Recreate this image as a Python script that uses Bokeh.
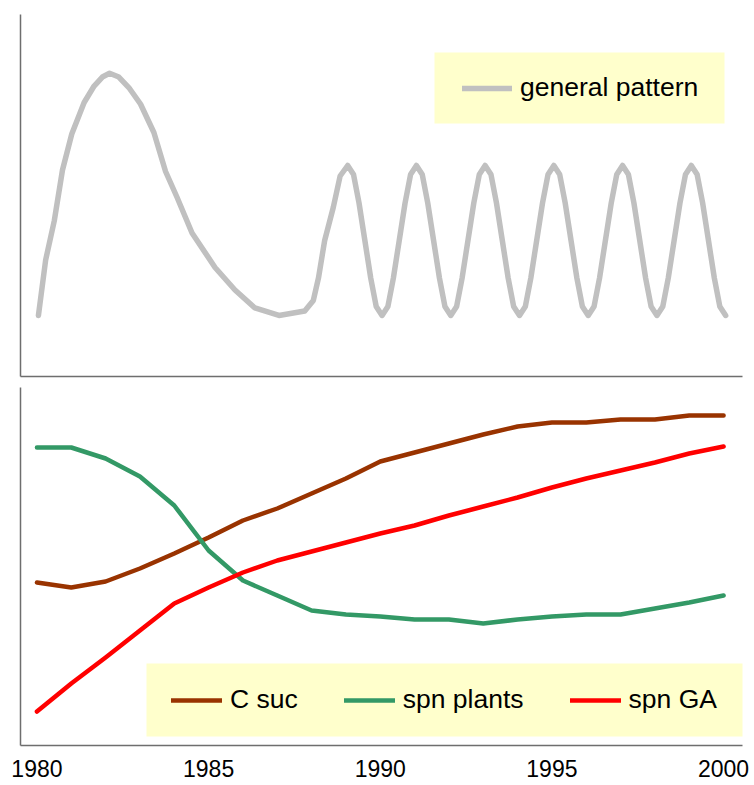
from bokeh.plotting import figure
from bokeh.models import Range1d, LinearAxis, FixedTicker, Legend, LegendItem, BoxAnnotation
from bokeh.layouts import column
from bokeh.embed import file_html
from bokeh.resources import INLINE

# ---------------- data ----------------
pattern_years = [
    1980.00, 1980.21, 1980.46, 1980.70, 1980.97, 1981.33, 1981.62, 1981.86, 1982.07,
    1982.34, 1982.63, 1982.97, 1983.36, 1983.70, 1984.03, 1984.47, 1985.14, 1985.72,
    1986.30, 1987.00, 1987.75, 1988.00, 1988.15, 1988.33, 1988.58, 1988.78,
    1989.00, 1989.17, 1989.33, 1989.50, 1989.67, 1989.83,
    1990.00, 1990.17, 1990.33, 1990.50, 1990.67, 1990.83,
    1991.00, 1991.17, 1991.33, 1991.50, 1991.67, 1991.83,
    1992.00, 1992.17, 1992.33, 1992.50, 1992.67, 1992.83,
    1993.00, 1993.17, 1993.33, 1993.50, 1993.67, 1993.83,
    1994.00, 1994.17, 1994.33, 1994.50, 1994.67, 1994.83,
    1995.00, 1995.17, 1995.33, 1995.50, 1995.67, 1995.83,
    1996.00, 1996.17, 1996.33, 1996.50, 1996.67, 1996.83,
    1997.00, 1997.17, 1997.33, 1997.50, 1997.67, 1997.83,
    1998.00, 1998.17, 1998.33, 1998.50, 1998.67, 1998.83,
    1999.00, 1999.17, 1999.33, 1999.50, 1999.67, 1999.83,
    2000.00,
]
pattern_values = [
    0.0, 3.7, 6.3, 9.7, 12.1, 14.2, 15.3, 15.9, 16.15,
    15.9, 15.2, 14.1, 12.2, 9.6, 7.9, 5.5, 3.2, 1.7,
    0.5, 0.0, 0.3, 1.0, 2.5, 5.0, 7.2, 9.3,
    10.0, 9.4, 7.5, 5.0, 2.5, 0.6,
    0.0, 0.6, 2.5, 5.0, 7.5, 9.4,
    10.0, 9.4, 7.5, 5.0, 2.5, 0.6,
    0.0, 0.6, 2.5, 5.0, 7.5, 9.4,
    10.0, 9.4, 7.5, 5.0, 2.5, 0.6,
    0.0, 0.6, 2.5, 5.0, 7.5, 9.4,
    10.0, 9.4, 7.5, 5.0, 2.5, 0.6,
    0.0, 0.6, 2.5, 5.0, 7.5, 9.4,
    10.0, 9.4, 7.5, 5.0, 2.5, 0.6,
    0.0, 0.6, 2.5, 5.0, 7.5, 9.4,
    10.0, 9.4, 7.5, 5.0, 2.5, 0.6,
    0.0,
]

years = [1980, 1981, 1982, 1983, 1984, 1985, 1986, 1987, 1988, 1989, 1990,
         1991, 1992, 1993, 1994, 1995, 1996, 1997, 1998, 1999, 2000]
c_suc = [16.3, 15.8, 16.4, 17.7, 19.2, 20.8, 22.5, 23.7, 25.2, 26.7, 28.4,
         29.3, 30.2, 31.1, 31.9, 32.3, 32.3, 32.6, 32.6, 33.0, 33.0]
spn_plants = [29.8, 29.8, 28.7, 26.9, 24.0, 19.5, 16.5, 15.0, 13.5, 13.1, 12.9,
              12.6, 12.6, 12.2, 12.6, 12.9, 13.1, 13.1, 13.7, 14.3, 15.0]
spn_ga = [3.4, 6.2, 8.8, 11.5, 14.2, 15.8, 17.3, 18.5, 19.4, 20.3, 21.2,
          22.0, 23.0, 23.9, 24.8, 25.8, 26.7, 27.5, 28.3, 29.2, 29.9]
tick_years = [1980, 1985, 1990, 1995, 2000]

FONT = "Liberation Sans"
AXIS_COLOR = "#6e6e6e"
LEGEND_BG = "#FFFFCC"
LEGEND_FONT_SIZE = "26.5px"


def plain_axis(ticks):
    ax = LinearAxis(ticker=FixedTicker(ticks=ticks))
    ax.axis_line_color = AXIS_COLOR
    ax.axis_line_width = 1.5
    ax.major_tick_line_color = None
    ax.minor_tick_line_color = None
    ax.major_tick_out = 0
    ax.major_tick_in = 0
    return ax


# ---------------- top panel ----------------
top = figure(width=754, height=380, output_backend="svg", toolbar_location=None,
             x_range=Range1d(1979.478, 2000.49), y_range=Range1d(-4.07, 20.07),
             x_axis_type=None, y_axis_type=None,
             min_border_left=18, min_border_right=12, min_border_top=14, min_border_bottom=4)
top.outline_line_color = None

for side in ("left", "below"):
    ax = plain_axis([])
    ax.major_label_text_font_size = "0px"
    ax.major_label_standoff = 0
    top.add_layout(ax, side)

r_pat = top.line(pattern_years, pattern_values, line_color="#C0C0C0", line_width=5.5,
                 line_cap="round", line_join="round")

top.add_layout(BoxAnnotation(left=414, right=704, bottom=253, top=324,
                             left_units="screen", right_units="screen",
                             bottom_units="screen", top_units="screen",
                             fill_color=LEGEND_BG, fill_alpha=1.0, line_color=None,
                             level="annotation"))

leg_top = Legend(items=[LegendItem(label="general pattern", renderers=[r_pat])],
                 location=(442, 273), orientation="vertical",
                 background_fill_alpha=0.0, border_line_color=None,
                 padding=0, margin=0, glyph_width=50, glyph_height=30, label_height=30,
                 label_standoff=8,
                 label_text_font=FONT, label_text_font_size=LEGEND_FONT_SIZE,
                 label_text_color="black")
top.add_layout(leg_top)

# ---------------- bottom panel ----------------
bot = figure(width=754, height=405, output_backend="svg", toolbar_location=None,
             x_range=Range1d(1979.521, 2000.551), y_range=Range1d(0.0, 35.8),
             x_axis_type=None, y_axis_type=None,
             min_border_left=20, min_border_right=9, min_border_top=7, min_border_bottom=40)
bot.outline_line_color = None

lax = plain_axis([])
lax.major_label_text_font_size = "0px"
lax.major_label_standoff = 0
bot.add_layout(lax, "left")

bax = plain_axis(tick_years)
bax.major_label_standoff = 14
bax.major_label_text_font = FONT
bax.major_label_text_font_size = "23px"
bax.major_label_text_color = "black"
bot.add_layout(bax, "below")

r_c = bot.line(years, c_suc, line_color="#993300", line_width=4.5,
               line_cap="round", line_join="round")
r_p = bot.line(years, spn_plants, line_color="#339966", line_width=4.5,
               line_cap="round", line_join="round")
r_g = bot.line(years, spn_ga, line_color="#FF0000", line_width=4.5,
               line_cap="round", line_join="round")

bot.add_layout(BoxAnnotation(left=126, right=724, bottom=9, top=82,
                             left_units="screen", right_units="screen",
                             bottom_units="screen", top_units="screen",
                             fill_color=LEGEND_BG, fill_alpha=1.0, line_color=None,
                             level="annotation"))

leg_bot = Legend(items=[LegendItem(label="C suc", renderers=[r_c]),
                        LegendItem(label="spn plants", renderers=[r_p]),
                        LegendItem(label="spn GA", renderers=[r_g])],
                 location=(151, 30), orientation="horizontal",
                 background_fill_alpha=0.0, border_line_color=None,
                 padding=0, margin=0, spacing=46,
                 glyph_width=51, glyph_height=30, label_height=30, label_standoff=8,
                 label_text_font=FONT, label_text_font_size=LEGEND_FONT_SIZE,
                 label_text_color="black")
bot.add_layout(leg_bot)

layout = column(top, bot, spacing=0)

with open("out.html", "w") as f:
    f.write(file_html(layout, INLINE))
